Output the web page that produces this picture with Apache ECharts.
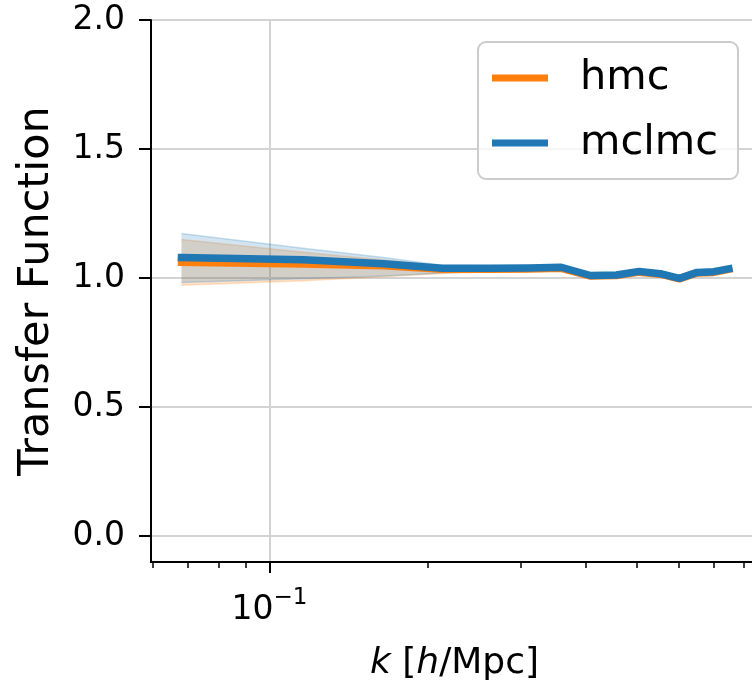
<!DOCTYPE html>
<html>
<head>
<meta charset="utf-8">
<script src="https://cdn.jsdelivr.net/npm/echarts@6/dist/echarts.min.js"></script>
<style>
  html, body { margin: 0; padding: 0; background: #ffffff; }
  #chart { width: 752px; height: 680px; }
</style>
</head>
<body>
<div id="chart"></div>
<script>
// Wavenumber bins (h/Mpc) and transfer-function estimates per sampler
const k = [0.068, 0.116, 0.165, 0.213, 0.262, 0.311, 0.359, 0.408, 0.457, 0.505, 0.554, 0.602, 0.651, 0.700, 0.748];
const hmcMean   = [1.061, 1.055, 1.048, 1.034, 1.034, 1.035, 1.038, 1.008, 1.010, 1.023, 1.015, 0.997, 1.020, 1.022, 1.034];
const hmcLow    = [0.972, 0.990, 1.005, 1.018, 1.025, 1.027, 1.030, 1.001, 1.004, 1.017, 1.010, 0.992, 1.015, 1.017, 1.029];
const hmcHigh   = [1.150, 1.100, 1.070, 1.045, 1.042, 1.043, 1.046, 1.015, 1.016, 1.029, 1.020, 1.002, 1.025, 1.027, 1.039];
const mclmcMean = [1.080, 1.071, 1.056, 1.038, 1.038, 1.039, 1.042, 1.010, 1.012, 1.026, 1.017, 0.999, 1.022, 1.025, 1.036];
const mclmcLow  = [0.983, 0.997, 1.008, 1.020, 1.027, 1.030, 1.034, 1.002, 1.005, 1.019, 1.011, 0.993, 1.016, 1.018, 1.029];
const mclmcHigh = [1.173, 1.116, 1.080, 1.050, 1.048, 1.048, 1.050, 1.018, 1.019, 1.033, 1.024, 1.006, 1.029, 1.032, 1.043];

// Axis ticks and ranges
const xMajorTicks = [0.1];
const xMinorTicks = [0.06, 0.07, 0.08, 0.09, 0.2, 0.3, 0.4, 0.5, 0.6, 0.7, 0.8, 0.9];
const yTicks = [0, 0.5, 1.0, 1.5, 2.0];
const kRange = [0.0595, 0.85];
const yRange = [-0.1, 2.0];

const ORANGE = '#ff7f0e';
const BLUE = '#1f77b4';
const FONT = 'DejaVu Sans';
const lg = Math.log10;

// Shaded uncertainty band, drawn as one polygon through the axis scales.
// The x axis lives in log10(k) space so minor ticks can sit at 2..9 x 10^n.
function bandSeries(name, low, high, color) {
  const rows = k.map((x, i) => [lg(x), low[i], high[i]]);
  return {
    name: name + ' band', type: 'custom', silent: true, z: 1,
    data: rows,
    encode: { x: 0, y: [1, 2] },
    renderItem: function (params, api) {
      if (params.dataIndex !== 0) return null;
      const upper = rows.map(r => api.coord([r[0], r[2]]));
      const lower = rows.map(r => api.coord([r[0], r[1]]));
      const poly = upper.concat(lower.slice().reverse());
      const edge = { stroke: color, lineWidth: 1.5, opacity: 0.22, fill: null };
      return {
        type: 'group',
        children: [
          { type: 'polygon', shape: { points: poly }, style: { fill: color, opacity: 0.2 } },
          { type: 'polyline', shape: { points: upper }, style: edge },
          { type: 'polyline', shape: { points: lower }, style: edge }
        ]
      };
    }
  };
}

function meanSeries(name, mean, color) {
  return {
    name: name, type: 'line', color: color,
    data: k.map((x, i) => [lg(x), mean[i]]),
    symbol: 'none', showSymbol: false, z: 3,
    lineStyle: { color: color, width: 7.5, cap: 'square', join: 'round' }
  };
}

const chart = echarts.init(document.getElementById('chart'), null, { renderer: 'canvas' });

chart.setOption({
  animation: false,
  backgroundColor: '#ffffff',
  textStyle: { fontFamily: FONT, color: '#000000' },
  grid: {
    left: 151, top: 20, width: 607, height: 542,
    outerBoundsMode: 'none', containLabel: false,
    show: true, borderColor: '#000000', borderWidth: 2, backgroundColor: 'transparent'
  },
  legend: {
    data: [{ name: 'hmc', icon: 'rect' }, { name: 'mclmc', icon: 'rect' }],
    orient: 'vertical', right: 14, top: 42,
    itemWidth: 56, itemHeight: 7, itemGap: 21,
    padding: [14, 20, 14, 14],
    backgroundColor: 'rgba(255,255,255,0.8)',
    borderColor: '#cccccc', borderWidth: 2, borderRadius: 8,
    textStyle: { fontFamily: FONT, fontSize: 41.5, color: '#000000', lineHeight: 44, padding: [0, 0, 0, 27] }
  },
  xAxis: [
    {
      type: 'value', gridIndex: 0, position: 'bottom',
      min: lg(kRange[0]), max: lg(kRange[1]),
      axisLine: { show: true, onZero: false, lineStyle: { color: '#000000', width: 2 } },
      axisTick: { show: true, length: 11, customValues: xMajorTicks.map(lg), lineStyle: { color: '#000000', width: 2 } },
      axisLabel: {
        customValues: xMajorTicks.map(lg),
        margin: 25,
        formatter: function (v) {
          const e = Math.round(v);
          return '{b|10}{s|' + (e < 0 ? '\u2212' : '') + Math.abs(e) + '}';
        },
        rich: {
          b: { fontFamily: FONT, fontSize: 33, color: '#000000', lineHeight: 40, verticalAlign: 'bottom' },
          s: { fontFamily: FONT, fontSize: 23, color: '#000000', lineHeight: 40, verticalAlign: 'top' }
        }
      },
      splitLine: { show: true, lineStyle: { color: '#d3d3d3', width: 2 } },
      name: '{i|k} [{i|h}/Mpc]',
      nameLocation: 'middle', nameGap: 84,
      nameTextStyle: {
        fontFamily: FONT, fontSize: 36, color: '#000000',
        rich: { i: { fontFamily: FONT, fontSize: 36, fontStyle: 'italic', color: '#000000' } }
      }
    },
    {
      type: 'value', gridIndex: 0, position: 'bottom',
      min: lg(kRange[0]), max: lg(kRange[1]),
      axisLine: { show: false, onZero: false },
      axisTick: { show: true, length: 6, customValues: xMinorTicks.map(lg), lineStyle: { color: '#000000', width: 1.5 } },
      axisLabel: { show: false },
      splitLine: { show: false }
    }
  ],
  yAxis: {
    type: 'value', min: yRange[0], max: yRange[1],
    axisLine: { show: true, onZero: false, lineStyle: { color: '#000000', width: 2 } },
    axisTick: { show: true, length: 12, customValues: yTicks, lineStyle: { color: '#000000', width: 2 } },
    axisLabel: {
      customValues: yTicks, margin: 26,
      fontFamily: FONT, fontSize: 33, color: '#000000',
      formatter: v => v.toFixed(1)
    },
    splitLine: { show: true, lineStyle: { color: '#d3d3d3', width: 2 } },
    name: 'Transfer Function', nameLocation: 'middle', nameGap: 93,
    nameTextStyle: { fontFamily: FONT, fontSize: 43, color: '#000000' }
  },
  series: [
    bandSeries('hmc', hmcLow, hmcHigh, ORANGE),
    bandSeries('mclmc', mclmcLow, mclmcHigh, BLUE),
    meanSeries('hmc', hmcMean, ORANGE),
    meanSeries('mclmc', mclmcMean, BLUE)
  ]
});
</script>
</body>
</html>
